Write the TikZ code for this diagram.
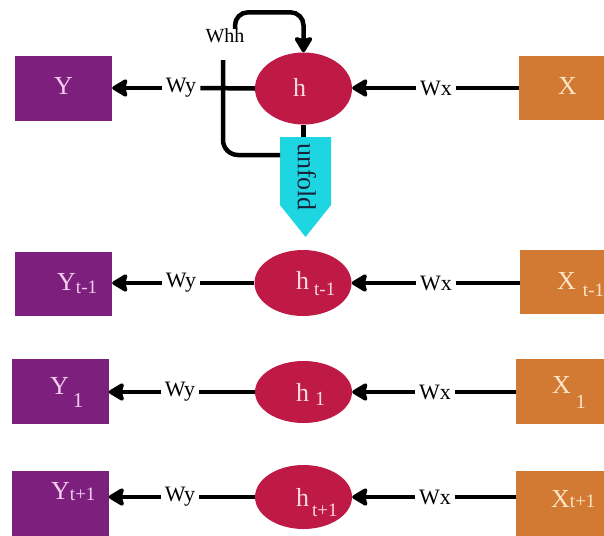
\documentclass[tikz,border=0pt]{standalone}
\usepackage{fontspec}
\setmainfont{Liberation Serif}
\usetikzlibrary{arrows.meta,calc,shapes.geometric}
\definecolor{ypurple}{HTML}{7D1F7C}
\definecolor{hred}{HTML}{BE1A45}
\definecolor{xorange}{HTML}{D27A33}
\definecolor{ufcyan}{HTML}{1DD6E2}
\definecolor{ytext}{HTML}{F5CDF0}
\definecolor{htext}{HTML}{FADAE0}
\definecolor{xtext}{HTML}{FCE6C8}
\definecolor{uftext}{HTML}{1A2238}
\newcommand\subs[3]{\raisebox{#1}{\fontsize{#2}{#2}\selectfont #3}}
\begin{document}
\begin{tikzpicture}[x=1pt,y=-1pt,
  ybox/.style={rectangle, fill=ypurple, inner sep=0pt, minimum width=97pt},
  hnode/.style={ellipse, fill=hred, inner sep=0pt, minimum width=97pt},
  xbox/.style={rectangle, fill=xorange, inner sep=0pt, minimum width=97pt},
  ylab/.style={anchor=base west, inner sep=0pt, text=ytext, font=\fontsize{26}{26}\selectfont},
  hlab/.style={anchor=base west, inner sep=0pt, text=htext, font=\fontsize{26}{26}\selectfont},
  xlab/.style={anchor=base west, inner sep=0pt, text=xtext, font=\fontsize{26}{26}\selectfont},
  wlab/.style={inner ysep=2pt, inner xsep=4pt, font=\fontsize{22}{22}\selectfont},
  conn/.style={line width=4.5pt, black},
  arr/.style={conn, -{Stealth[length=18pt,width=21pt,inset=3pt,round]}}
]
\useasboundingbox (0,0) rectangle (604,535);
\clip (0,0) rectangle (604,535);

% ---------- top (folded) row ----------
\node[ybox, minimum height=65pt] (Y0) at (63.5,88.5) {};
\node[hnode, minimum height=72pt] (h0) at (303.5,88.5) {};
\node[xbox, minimum height=64pt] (X0) at (567.5,88) {};
\node[ylab] (Y0t) at (54,94) {Y};
\node[hlab] (h0t) at (293,96) {h};
\node[xlab] (X0t) at (558,94) {X};
\node[wlab] (wy0) at (181,88) {Wy};
\node[wlab] (wx0) at (436,88) {Wx};
\draw[arr] (wy0.west) -- (wy0.west -| Y0.east);
\draw[conn] (h0.west) -- (wy0.east);
\draw[arr] (wx0.west) -- (wx0.west -| h0.east);
\draw[conn] (X0.west |- wx0.east) -- (wx0.east);

% recurrent loop
\node[anchor=base, inner sep=0pt, font=\fontsize{20}{20}\selectfont] (whh) at (225,43) {Whh};
\coordinate (whhtail) at (235,29);
\draw[arr, rounded corners=13pt] (whhtail) |- ([yshift=40pt]h0.north) -- (h0.north);

% unfold arrow
\coordinate (uftl) at (280,137);
\coordinate (uftr) at (331,137);
\coordinate (ufbr) at (331,205);
\coordinate (uftip) at (305.5,237);
\coordinate (ufbl) at (280,205);
\coordinate (ufleft) at (280,155);
\fill[ufcyan] (uftl) -- (uftr) -- (ufbr) -- (uftip) -- (ufbl) -- cycle;
\node[rotate=-90, inner sep=0pt, text=uftext, font=\fontsize{26}{26}\selectfont] (uft) at (307,177) {unfold};
\draw[conn] (h0.south) -- (h0.south |- uftl);
\draw[conn, rounded corners=15pt] (223,60) |- (ufleft);

% ---------- row t-1 ----------
\node[ybox, minimum height=64pt] (Y1) at (63.5,284) {};
\node[hnode, minimum height=66pt] (h1) at (303,283) {};
\node[xbox, minimum height=64pt] (X1) at (568.5,282) {};
\node[ylab] (Y1t) at (57,290) {Y\subs{-3pt}{19}{t-1}};
\node[hlab] (h1t) at (296,289) {h\hspace{5pt}\subs{-6pt}{19}{t-1}};
\node[xlab] (X1t) at (557,289) {X\hspace{7pt}\subs{-7pt}{19}{t-1}};
\node[wlab] (wy1) at (181,283) {Wy};
\node[wlab] (wx1) at (436,283) {Wx};
\draw[arr] (wy1.west) -- (wy1.west -| Y1.east);
\draw[conn] (h1.west) -- (wy1.east);
\draw[arr] (wx1.west) -- (wx1.west -| h1.east);
\draw[conn] (X1.west |- wx1.east) -- (wx1.east);

% ---------- row 1 ----------
\node[ybox, minimum height=65pt] (Y2) at (60,391.5) {};
\node[hnode, minimum height=62pt] (h2) at (303.5,392) {};
\node[xbox, minimum height=65pt] (X2) at (564.5,391.5) {};
\node[ylab] (Y2t) at (50,394) {Y\hspace{4pt}\subs{-13pt}{21}{1}};
\node[hlab] (h2t) at (296,401) {h\hspace{6pt}\subs{-4pt}{20}{1}};
\node[xlab] (X2t) at (552,393) {X\hspace{5pt}\subs{-15pt}{20}{1}};
\node[wlab] (wy2) at (180,392) {Wy};
\node[wlab] (wx2) at (435,392) {Wx};
\draw[arr] (wy2.west) -- (wy2.west -| Y2.east);
\draw[conn] (h2.west) -- (wy2.east);
\draw[arr] (wx2.west) -- (wx2.west -| h2.east);
\draw[conn] (X2.west |- wx2.east) -- (wx2.east);

% ---------- row t+1 ----------
\node[ybox, minimum height=68pt] (Y3) at (60,505) {};
\node[hnode, minimum height=64pt] (h3) at (303.5,497) {};
\node[xbox, minimum height=68pt] (X3) at (564.5,505) {};
\node[ylab] (Y3t) at (51,499) {Y\subs{-1pt}{19}{t+1}};
\node[hlab] (h3t) at (296,506) {h\hspace{3pt}\subs{-10pt}{19}{t+1}};
\node[xlab] (X3t) at (551,507) {X\subs{0pt}{19}{t+1}};
\node[wlab] (wy3) at (180,497) {Wy};
\node[wlab] (wx3) at (435,497) {Wx};
\draw[arr] (wy3.west) -- (wy3.west -| Y3.east);
\draw[conn] (h3.west) -- (wy3.east);
\draw[arr] (wx3.west) -- (wx3.west -| h3.east);
\draw[conn] (X3.west |- wx3.east) -- (wx3.east);
\end{tikzpicture}
\end{document}
